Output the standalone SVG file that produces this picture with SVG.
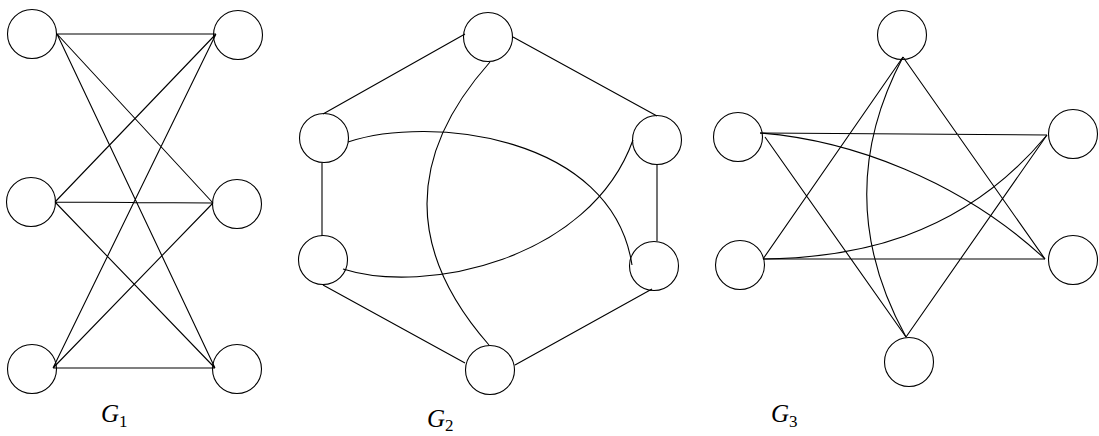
<svg xmlns="http://www.w3.org/2000/svg" width="1099" height="436" viewBox="0 0 1099 436">
<style>
.n{fill:none;stroke:#000;stroke-width:1.1}
.e{fill:none;stroke:#000;stroke-width:1.1}
.lb{font-family:"Liberation Serif",serif;font-style:italic;font-size:25px;fill:#000}
.sub{font-family:"Liberation Serif",serif;font-style:normal;font-size:17px}
</style>
<rect width="1099" height="436" fill="#fff"/>
<g id="connectors">
<path class="e" d="M57 34L216 34M57 34L213 203M57 34L215 368M55 202L216 34M55 202L213 203M55 202L215 368M53 368L216 34M53 368L213 203M53 368L215 368"/>
<path class="e" d="M465 34L323 114M513 37L657 116M322 163L322 236M657 164L657 241M323 285L465 363M652 289L515 365"/>
<path class="e" d="M490 62Q364.5 203 489 345"/>
<path class="e" d="M348 142C430 115 612 135 632 265"/>
<path class="e" d="M343 269C425 295 590 260 633 140"/>
<path class="e" d="M760 133L1047 135M765 137L906 337M763 259L1045 259M763 259L903 57M903 57L1045 259M906 337L1047 135"/>
<path class="e" d="M903 57Q829 197 906 337"/>
<path class="e" d="M760 133C850 140 960 180 1045 259"/>
<path class="e" d="M763 259C850 258 960 240 1047 135"/>
</g>
<g id="g1-lt"><circle class="n" cx="32" cy="34" r="24.5"/></g>
<g id="g1-lm"><circle class="n" cx="31" cy="202" r="24.5"/></g>
<g id="g1-lb"><circle class="n" cx="32" cy="369" r="24.5"/></g>
<g id="g1-rt"><circle class="n" cx="238" cy="35" r="24.5"/></g>
<g id="g1-rm"><circle class="n" cx="237" cy="204" r="24.5"/></g>
<g id="g1-rb"><circle class="n" cx="237" cy="369" r="24.5"/></g>
<g id="g2-t"><circle class="n" cx="488" cy="37" r="24.5"/></g>
<g id="g2-lu"><circle class="n" cx="324" cy="138" r="24.5"/></g>
<g id="g2-ru"><circle class="n" cx="657" cy="140" r="24.5"/></g>
<g id="g2-ll"><circle class="n" cx="323" cy="260" r="24.5"/></g>
<g id="g2-rl"><circle class="n" cx="654" cy="266" r="24.5"/></g>
<g id="g2-b"><circle class="n" cx="490" cy="370" r="24.5"/></g>
<g id="g3-t"><circle class="n" cx="902" cy="35" r="24.5"/></g>
<g id="g3-lu"><circle class="n" cx="738" cy="137" r="24.5"/></g>
<g id="g3-ru"><circle class="n" cx="1073" cy="134" r="24.5"/></g>
<g id="g3-ll"><circle class="n" cx="740" cy="265" r="24.5"/></g>
<g id="g3-rl"><circle class="n" cx="1073" cy="260" r="24.5"/></g>
<g id="g3-b"><circle class="n" cx="909" cy="362" r="24.5"/></g>
<g id="labels">
<text class="lb" x="101" y="422">G<tspan class="sub" dy="5">1</tspan></text>
<text class="lb" x="427" y="427">G<tspan class="sub" dy="4">2</tspan></text>
<text class="lb" x="771" y="422">G<tspan class="sub" dy="5">3</tspan></text>
</g>
</svg>
